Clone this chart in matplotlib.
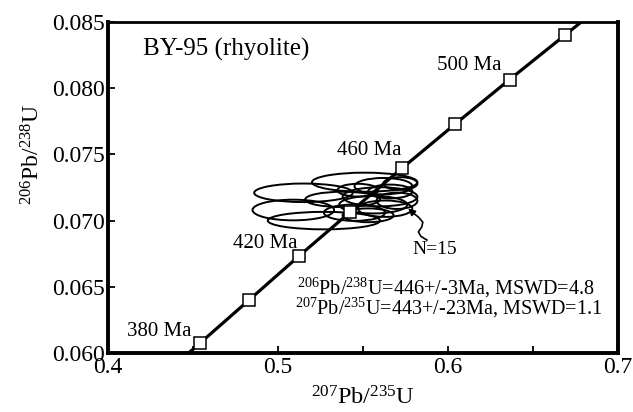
import matplotlib
matplotlib.use("Agg")
import matplotlib.pyplot as plt
from matplotlib.patches import Ellipse

plt.rcParams["font.family"] = "Liberation Serif"
plt.rcParams["mathtext.fontset"] = "custom"
plt.rcParams["mathtext.rm"] = "Liberation Serif"
plt.rcParams["mathtext.it"] = "Liberation Serif:italic"

# concordia age markers (Ma) with 207Pb/235U and 206Pb/238U
ages = [380, 400, 420, 440, 460, 480, 500, 520]
conc_x = [0.4539, 0.4828, 0.5123, 0.5424, 0.5731, 0.6043, 0.6362, 0.6688]
conc_y = [0.06072, 0.06398, 0.06732, 0.07064, 0.07397, 0.07730, 0.08065, 0.08401]
line_x = [0.4475] + conc_x + [0.6784]
line_y = [0.0600] + conc_y + [0.0850]

# 15 spot analyses: centre x, centre y, half-width (x), half-height (y)
ell_x = [0.551, 0.515, 0.509, 0.527, 0.562, 0.560, 0.556, 0.566,
         0.545, 0.570, 0.538, 0.553, 0.572, 0.547, 0.563]
ell_y = [0.0729, 0.0721, 0.0708, 0.0700, 0.0726, 0.0718, 0.0712, 0.0722,
         0.0706, 0.0715, 0.0716, 0.0704, 0.0728, 0.0723, 0.0709]
ell_w = [0.031, 0.029, 0.024, 0.033, 0.017, 0.022, 0.020, 0.013,
         0.018, 0.012, 0.022, 0.015, 0.010, 0.012, 0.016]
ell_h = [0.00072, 0.00070, 0.00078, 0.00066, 0.00062, 0.00072, 0.00066, 0.00052,
         0.00062, 0.00062, 0.00058, 0.00052, 0.00048, 0.00048, 0.00062]

# squiggly pointer to the ellipse cluster
arrow_x = [0.5876, 0.5840, 0.5826, 0.5845, 0.5852, 0.5825, 0.5795, 0.5766]
arrow_y = [0.06853, 0.06882, 0.06915, 0.06950, 0.06988, 0.07028, 0.07058, 0.07092]

fig = plt.figure(figsize=(6.33, 4.12), dpi=100)
ax = fig.add_axes([0.1706, 0.1432, 0.8057, 0.8034])

for cx, cy, w, h in zip(ell_x, ell_y, ell_w, ell_h):
    ax.add_patch(Ellipse((cx, cy), 2 * w, 2 * h, fill=False,
                         edgecolor="black", linewidth=1.4))

ax.plot(line_x, line_y, color="black", linewidth=2.3, zorder=3)
ax.plot(conc_x, conc_y, linestyle="none", marker="s", markersize=8.5,
        markerfacecolor="white", markeredgecolor="black",
        markeredgewidth=1.1, zorder=4)

ax.text(0.4494, 0.06166, "380 Ma", fontsize=15, ha="right", va="center")
ax.text(0.5112, 0.0683, "420 Ma", fontsize=15, ha="right", va="center")
ax.text(0.5347, 0.07526, "460 Ma", fontsize=15, ha="left", va="center")
ax.text(0.5935, 0.08168, "500 Ma", fontsize=15, ha="left", va="center")

ax.text(0.4206, 0.08296, "BY-95 (rhyolite)", fontsize=18, ha="left", va="center")
ax.text(0.5788, 0.06778, "N=15", fontsize=14, ha="left", va="center")

ax.plot(arrow_x[:-1], arrow_y[:-1], color="black", linewidth=1.2)
ax.annotate("", xy=(arrow_x[-1], arrow_y[-1]), xytext=(arrow_x[-2], arrow_y[-2]),
            arrowprops=dict(arrowstyle="-|>", color="black", lw=1.2,
                            mutation_scale=10, shrinkA=0, shrinkB=0))

ax.text(0.5112, 0.06488, r"$^{206}$Pb/$^{238}$U=446+/-3Ma, MSWD=4.8",
        fontsize=14.5, ha="left", va="center")
ax.text(0.5100, 0.06342, r"$^{207}$Pb/$^{235}$U=443+/-23Ma, MSWD=1.1",
        fontsize=14.5, ha="left", va="center")

ax.set_xlim(0.4, 0.7)
ax.set_ylim(0.060, 0.085)
ax.set_xticks([0.4, 0.5, 0.6, 0.7])
ax.set_xticklabels(["0.4", "0.5", "0.6", "0.7"])
ax.set_xticks([0.45, 0.55, 0.65], minor=True)
ax.set_yticks([0.060, 0.065, 0.070, 0.075, 0.080, 0.085])
ax.set_yticklabels(["0.060", "0.065", "0.070", "0.075", "0.080", "0.085"])
ax.tick_params(axis="both", which="both", direction="in", length=5, width=1.3,
               labelsize=17, pad=2)
ax.tick_params(axis="x", which="both", pad=3)

for side in ["left", "bottom", "right"]:
    ax.spines[side].set_linewidth(2.8)
ax.spines["top"].set_linewidth(2.0)

ax.set_xlabel(r"$^{207}$Pb/$^{235}$U", fontsize=17.5)
ax.set_ylabel(r"$^{206}$Pb/$^{238}$U", fontsize=17)
ax.xaxis.set_label_coords(0.5, -0.1)
ax.yaxis.set_label_coords(-0.125, 0.6)

fig.savefig("out.png", dpi=100)
